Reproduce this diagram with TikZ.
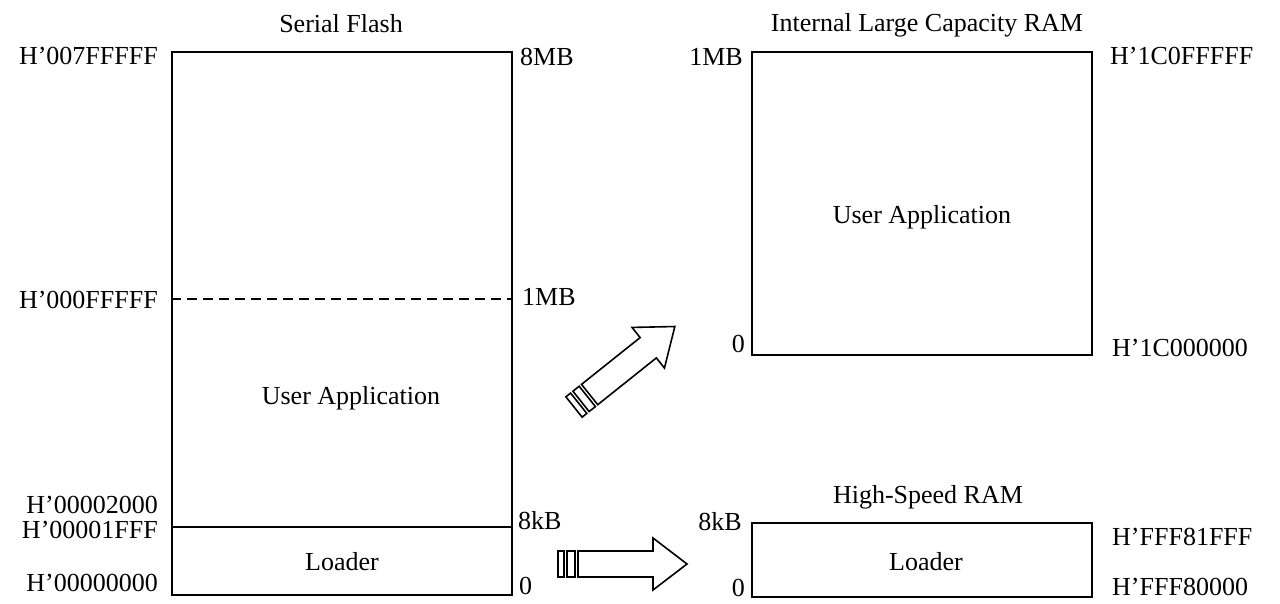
\documentclass[tikz,border=0pt]{standalone}
\usepackage{fontspec}
\setmainfont{Liberation Serif}
\usetikzlibrary{positioning}

\begin{document}
\begin{tikzpicture}[
                x=1pt, y=-1pt,
                every node/.style={font=\fontsize{26}{30}\selectfont, inner sep=0pt},
                membox/.style={rectangle, draw=black, line width=1.8pt, minimum width=340pt},
                addrl/.style={anchor=east},
                addrr/.style={anchor=west},
                title/.style={anchor=base},
                divider/.style={line width=1.8pt},
                blockarrow/.pic={
                    \draw[line width=1.6pt] (0,-13) rectangle (6,13);
                    \draw[line width=1.6pt] (9,-13) rectangle (17,13);
                    \draw[line width=1.6pt, line join=miter] (20,-13) -- (95,-13) -- (95,-26) -- (129,0) -- (95,26) -- (95,13) -- (20,13) -- cycle;
                }
            ]
                \useasboundingbox (0,0) rectangle (1280,603);

                % Nodes
                \node (flash) [membox, minimum height=543pt] at (342,323.5) {};
                \node (ram) [membox, minimum height=303pt] at (922,203.5) {};
                \node (hsram) [membox, minimum height=74pt] at (922,560) {};

                \node (flashtitle) [title] at (341,32) {Serial Flash};
                \node (ramtitle) [title] at (927,31) {Internal Large Capacity RAM};
                \node (hstitle) [title] at (928,503) {High-Speed RAM};

                \node (flashapp) [title] at (351,404) {User Application};
                \node (flashldr) at (342,562) {Loader};
                \node (ramapp) [title] at (922,223) {User Application};
                \node (hsldr) at (926,562) {Loader};

                % Serial flash addresses
                \node (a7f) [addrl] at (158,56) {H'007FFFFF};
                \node (a0f) [addrl] at (158,300) {H'000FFFFF};
                \node (a2k) [addrl] at (158,505) {H'00002000};
                \node (a1f) [addrl] at (158,530) {H'00001FFF};
                \node (a00) [addrl] at (158,583) {H'00000000};
                \node (s8m) [addrr] at (520,57) {8MB};
                \node (s1m) [addrr] at (522,297) {1MB};
                \node (s8k) [addrr] at (518,521) {8kB};
                \node (s0) [addrr] at (519,586) {0};

                % RAM addresses
                \node (r1m) [addrl] at (743,57) {1MB};
                \node (r0) [addrl] at (745,344) {0};
                \node (rtop) [addrr] at (1110,56) {H'1C0FFFFF};
                \node (rbot) [addrr] at (1112,348) {H'1C000000};
                \node (h8k) [addrl] at (742,522) {8kB};
                \node (h0) [addrl] at (745,588) {0};
                \node (htop) [addrr] at (1112,537) {H'FFF81FFF};
                \node (hbot) [addrr] at (1112,587) {H'FFF80000};

                % Dividers
                \coordinate (ldrl) at (flash.west |- 0,527);
                \coordinate (ldrr) at (flash.east |- 0,527);
                \coordinate (mbl) at (flash.west |- 0,299);
                \coordinate (mbr) at (flash.east |- 0,299);
                \draw [divider] (ldrl) -- (ldrr);
                \draw [divider, dash pattern=on 10pt off 6pt] (mbl) -- (mbr);

                % Arrows
                \coordinate (apptail) at (574,407);
                \coordinate (ldrtail) at (558,564);
                \pic [rotate=38.6] at (apptail) {blockarrow};
                \pic at (ldrtail) {blockarrow};

            \end{tikzpicture}
\end{document}
